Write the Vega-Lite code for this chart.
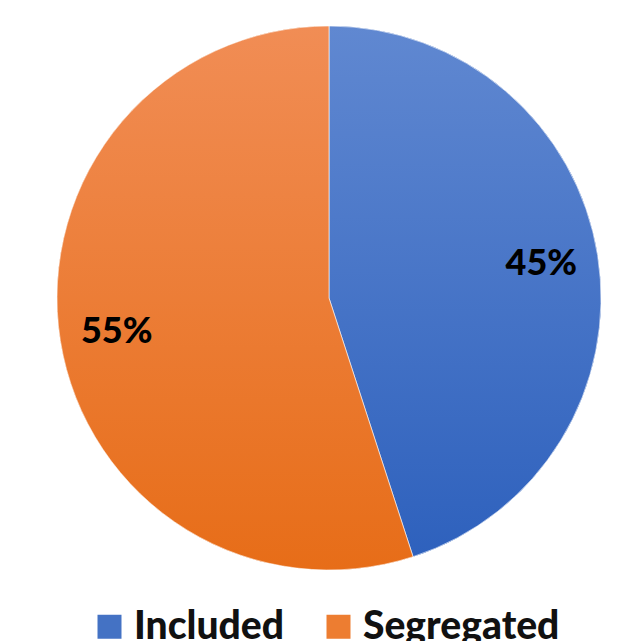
{
  "$schema": "https://vega.github.io/schema/vega-lite/v6.json",
  "width": 576,
  "height": 596,
  "autosize": "none",
  "padding": {"left": 41, "top": 0, "right": 0, "bottom": 45},
  "background": "white",
  "data": {"values": [
    {"category": "Included", "value": 45, "label": "45%"},
    {"category": "Segregated", "value": 55, "label": "55%"}
  ]},
  "encoding": {
    "theta": {"field": "value", "type": "quantitative", "stack": true}
  },
  "layer": [
    {
      "mark": {"type": "arc", "outerRadius": 272},
      "encoding": {
        "color": {
          "field": "category", "type": "nominal",
          "scale": {"domain": ["Included", "Segregated"], "range": ["#4472C4", "#ED7D31"]},
          "legend": {
            "title": null, "orient": "none", "direction": "horizontal",
            "legendX": 49, "legendY": 607,
            "symbolType": "square", "symbolSize": 576, "symbolStrokeWidth": 0,
            "labelFont": "Lato", "labelFontWeight": 900, "labelFontSize": 39,
            "labelColor": "#111111", "labelLimit": 400, "labelOffset": 5,
            "columnPadding": 35
          }
        }
      }
    },
    {
      "mark": {"type": "arc", "outerRadius": 272, "stroke": "#ffffff", "strokeWidth": 1, "strokeOpacity": 0.6},
      "encoding": {
        "color": {
          "condition": {
            "test": "datum.category === 'Included'",
            "value": {"gradient": "linear", "x1": 0, "y1": 0, "x2": 0, "y2": 1,
              "stops": [{"offset": 0, "color": "#6088D1"}, {"offset": 1, "color": "#2E61BD"}]}
          },
          "value": {"gradient": "linear", "x1": 0, "y1": 0, "x2": 0, "y2": 1,
            "stops": [{"offset": 0, "color": "#F18D55"}, {"offset": 1, "color": "#E76D18"}]}
        }
      }
    },
    {
      "mark": {"type": "text", "radius": 215, "font": "Lato", "fontWeight": 900, "fontSize": 36, "color": "#000000"},
      "encoding": {"text": {"field": "label"}}
    }
  ]
}
